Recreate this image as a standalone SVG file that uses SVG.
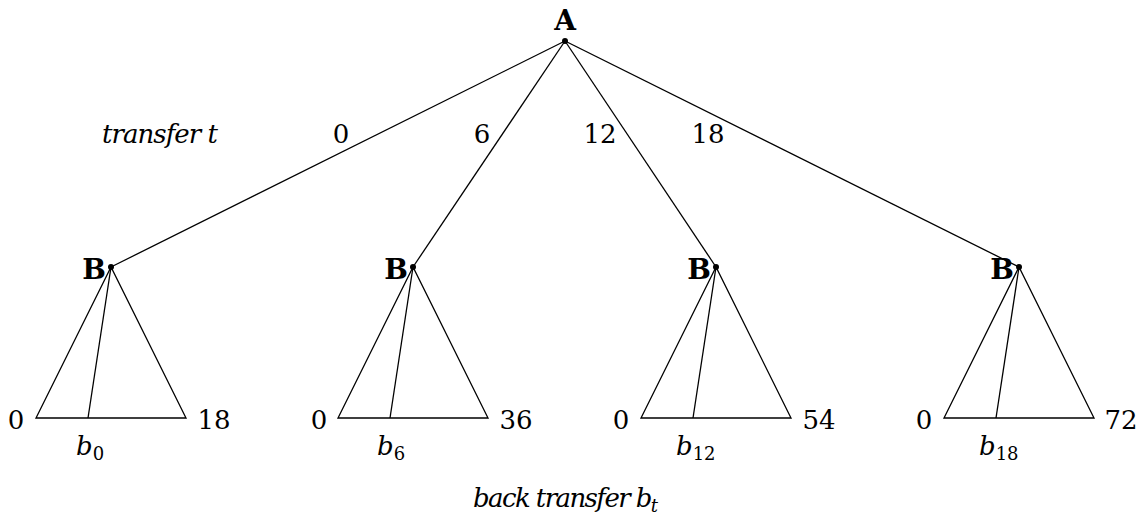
<svg xmlns="http://www.w3.org/2000/svg" width="1145" height="524" viewBox="0 0 1145 524">
<style>
.e{stroke:#000;stroke-width:1.3;fill:none}
.t{font-family:'DejaVu Serif',serif;font-size:26px;fill:#000}
.i{font-style:italic}
.b{font-weight:bold;font-size:28px}
.s{font-size:18px}
</style>
<rect width="1145" height="524" fill="#fff"/>
<g id="connectors">
<line class="e" x1="565" y1="41" x2="111" y2="267"/>
<line class="e" x1="565" y1="41" x2="413" y2="267"/>
<line class="e" x1="565" y1="41" x2="716" y2="267"/>
<line class="e" x1="565" y1="41" x2="1019" y2="267"/>
</g>
<g id="nodeA">
<circle cx="565" cy="41" r="3"/>
<text class="t b" x="565" y="30" text-anchor="middle">A</text>
</g>
<g id="labels">
<text class="t i" x="102" y="143" textLength="116">transfer t</text>
<text class="t" x="341" y="143" text-anchor="middle">0</text>
<text class="t" x="482" y="143" text-anchor="middle">6</text>
<text class="t" x="600" y="143" text-anchor="middle">12</text>
<text class="t" x="708" y="143" text-anchor="middle">18</text>
<text class="t i" x="473" y="507" textLength="185">back transfer b<tspan class="s" dy="5">t</tspan></text>
</g>
<g id="nodeB1">
<polygon class="e" points="111,267 36,418 186,418"/>
<line class="e" x1="111" y1="267" x2="88" y2="418"/>
<circle cx="111" cy="267" r="3"/>
<text class="t b" x="106" y="279" text-anchor="end">B</text>
<text class="t" x="16" y="429" text-anchor="middle">0</text>
<text class="t" x="214" y="429" text-anchor="middle">18</text>
<text class="t i" x="76" y="455">b<tspan class="s" font-style="normal" dy="5">0</tspan></text>
</g>
<g id="nodeB2">
<polygon class="e" points="413,267 338,418 488,418"/>
<line class="e" x1="413" y1="267" x2="390" y2="418"/>
<circle cx="413" cy="267" r="3"/>
<text class="t b" x="408" y="279" text-anchor="end">B</text>
<text class="t" x="319" y="429" text-anchor="middle">0</text>
<text class="t" x="516" y="429" text-anchor="middle">36</text>
<text class="t i" x="377" y="455">b<tspan class="s" font-style="normal" dy="5">6</tspan></text>
</g>
<g id="nodeB3">
<polygon class="e" points="716,267 641,418 791,418"/>
<line class="e" x1="716" y1="267" x2="693" y2="418"/>
<circle cx="716" cy="267" r="3"/>
<text class="t b" x="711" y="279" text-anchor="end">B</text>
<text class="t" x="621" y="429" text-anchor="middle">0</text>
<text class="t" x="819" y="429" text-anchor="middle">54</text>
<text class="t i" x="676" y="455">b<tspan class="s" font-style="normal" dy="5">12</tspan></text>
</g>
<g id="nodeB4">
<polygon class="e" points="1019,267 944,418 1094,418"/>
<line class="e" x1="1019" y1="267" x2="996" y2="418"/>
<circle cx="1019" cy="267" r="3"/>
<text class="t b" x="1014" y="279" text-anchor="end">B</text>
<text class="t" x="924" y="429" text-anchor="middle">0</text>
<text class="t" x="1121" y="429" text-anchor="middle">72</text>
<text class="t i" x="979" y="455">b<tspan class="s" font-style="normal" dy="5">18</tspan></text>
</g>
</svg>
